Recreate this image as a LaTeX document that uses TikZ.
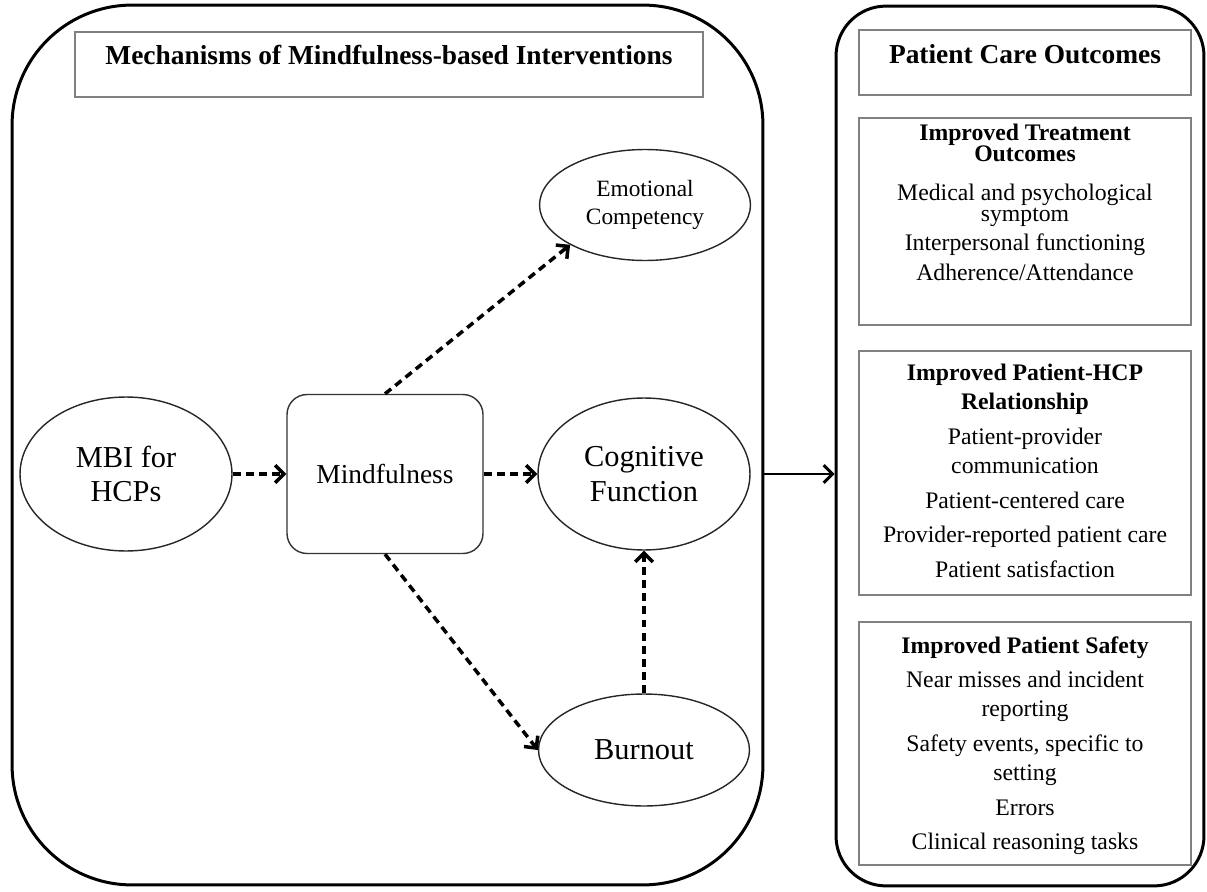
\documentclass[tikz,border=0pt]{standalone}
\usepackage{fontspec}
\setmainfont{Liberation Serif}
\usetikzlibrary{shapes.geometric,arrows.meta,positioning}
\newcommand\tightlines{\lineskiplimit-100pt\lineskip0pt\relax}

\begin{document}
\begin{tikzpicture}[x=0.02cm, y=-0.02cm, >={Straight Barb[length=5pt,width=10pt]},
    panel/.style={draw, line width=1.7pt, rounded corners=#1, inner sep=0pt},
    tbox/.style={draw=black!50, line width=0.7pt, minimum width=6.64cm, inner sep=0pt},
    bubble/.style={ellipse, draw=black!85, line width=0.8pt, inner sep=0pt, align=center},
    outlist/.style={anchor=north, align=center, inner sep=0pt},
    flow/.style={->, line width=2pt, dash pattern=on 4.5pt off 3pt}]
    \useasboundingbox (0,0) rectangle (1207,892);

    % Outer panels
    \node[panel=2.4cm, minimum width=15.02cm, minimum height=17.6cm] (mech) at (387.5,445) {};
    \node[panel=1cm, minimum width=7.36cm, minimum height=17.6cm] (care) at (1020,446) {};

    % Headings
    \node[tbox, minimum width=12.56cm, minimum height=1.3cm] (mechbox) at (389,64.5) {};
    \node[font=\bfseries\fontsize{15.6}{18}\selectfont, anchor=base] (mechtitle) at (389,65)
        {Mechanisms of Mindfulness-based Interventions};
    \node[tbox, minimum height=1.3cm] (carebox) at (1025,62.5) {};
    \node[font=\bfseries\fontsize{15.6}{18}\selectfont, anchor=base] (caretitle) at (1025,64)
        {Patient Care Outcomes};

    % Outcome boxes
    \node[tbox, minimum height=4.14cm] (treat) at (1025,221.5) {};
    \node[tbox, minimum height=4.88cm] (relat) at (1025,473) {};
    \node[tbox, minimum height=4.86cm] (safety) at (1025,743.5) {};

    \node[outlist, font=\fontsize{13.5}{12}\selectfont\tightlines] (treattext) at (1025,124)
        {\textbf{Improved Treatment}\\\textbf{Outcomes}\\[10pt]
         Medical and psychological\\symptom\\[4.5pt]
         Interpersonal functioning\\[5pt]
         Adherence/Attendance};
    \node[outlist, font=\fontsize{13.5}{16.4}\selectfont] (relattext) at (1025,364)
        {\textbf{Improved Patient-HCP}\\\textbf{Relationship}\\[3.4pt]
         Patient-provider\\communication\\[3.4pt]
         Patient-centered care\\[3.4pt]
         Provider-reported patient care\\[3.4pt]
         Patient satisfaction};
    \node[outlist, font=\fontsize{13.5}{16.4}\selectfont] (safetytext) at (1025,636)
        {\textbf{Improved Patient Safety}\\[3.4pt]
         Near misses and incident\\reporting\\[3.4pt]
         Safety events, specific to\\setting\\[3.4pt]
         Errors\\[3.4pt]
         Clinical reasoning tasks};

    % Mechanisms
    \node[bubble, minimum width=4.24cm, minimum height=3.08cm, font=\fontsize{17.3}{19.8}\selectfont] (mbi) at (126,474) {MBI for\\HCPs};
    \node[draw=black!80, line width=0.8pt, rounded corners=0.4cm, minimum width=3.92cm, minimum height=3.18cm,
        font=\fontsize{15.6}{18}\selectfont] (mind) at (385,474) {Mindfulness};
    \node[bubble, minimum width=4.24cm, minimum height=3.04cm, font=\fontsize{17.3}{19.8}\selectfont] (cog) at (644,474) {Cognitive\\Function};
    \node[bubble, minimum width=4.22cm, minimum height=2.22cm, font=\fontsize{13.3}{15.9}\selectfont] (emo) at (645,205) {Emotional\\Competency};
    \node[bubble, minimum width=4.22cm, minimum height=2.24cm, font=\fontsize{17.3}{19.8}\selectfont] (burn) at (644,750) {Burnout};

    % Paths
    \draw[flow] (mbi) -- (mind);
    \draw[flow] (mind) -- (cog);
    \draw[flow] (mind.north) -- (emo.208);
    \draw[flow] (mind.south) -- (burn.west);
    \draw[flow] (burn) -- (cog);
    \draw[->, line width=1.7pt] (mech.east |- cog) -- (care.west |- cog);
\end{tikzpicture}
\end{document}
